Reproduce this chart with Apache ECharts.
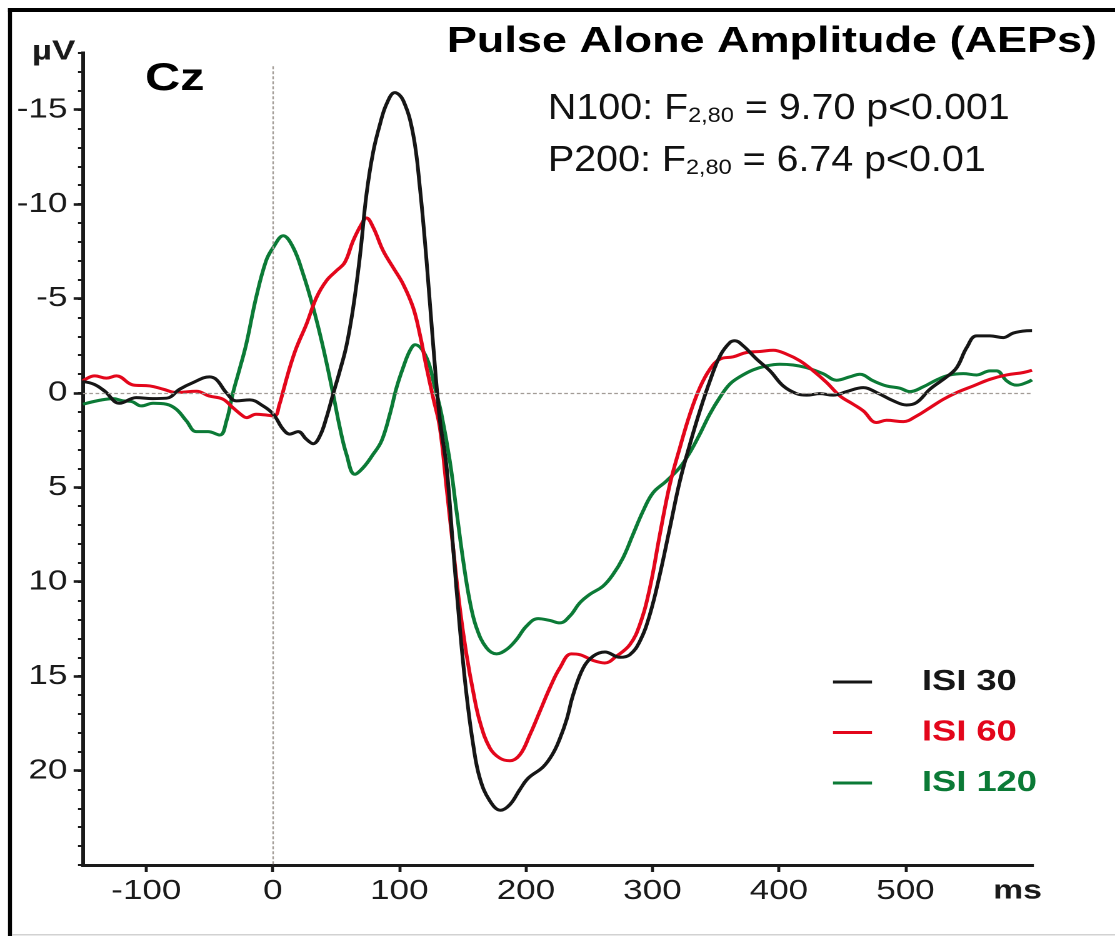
<!DOCTYPE html>
<html>
<head>
<meta charset="utf-8">
<script src="https://cdn.jsdelivr.net/npm/echarts@6/dist/echarts.min.js"></script>
<style>
html, body { margin: 0; padding: 0; background: #fff; overflow: hidden; }
/* the reference figure is horizontally stretched by 1.25 */
#chart { width: 892px; height: 936px; transform: scaleX(1.25); transform-origin: 0 0; }
</style>
</head>
<body>
<div id="chart"></div>
<script>
// ---------------- data ----------------
const seriesNames = ['ISI 30', 'ISI 60', 'ISI 120'];
const seriesColors = ['#161616', '#e3061b', '#0b7a36'];

// [time (ms), amplitude (µV)]  — negative is plotted upward
const isi30 = [
  [-150,-0.6],[-141,-0.45],[-133,-0.1],[-121,0.55],[-108,0.25],[-95,0.3],[-84,0.28],[-73.5,-0.2],
  [-63,-0.55],[-50,-0.85],[-44.5,-0.7],[-36.6,0],[-28.7,0.42],[-18.2,0.37],[-7.7,0.69],[0.3,1.12],
  [8.2,1.93],[13.4,2.18],[20,2.05],[26.6,2.46],[31.9,2.69],[37.2,2.28],[42.4,1.31],[47.7,0.05],
  [53,-1.17],[58.2,-2.5],[63.5,-4.5],[68.8,-7.2],[74,-10.5],[79.3,-12.75],[84.6,-14.2],[89.9,-15.3],
  [96.4,-15.9],[103,-15.5],[110.9,-13.7],[116.2,-10.9],[121.5,-7.0],[126.7,-2.58],[132,1.4],[137.3,3.9],
  [142.5,8.2],[147.8,12.44],[153.1,15.98],[158.3,18.6],[163.6,20.4],[171.5,21.6],[180,22.1],[187.4,21.8],
  [195.3,21.0],[201.9,20.4],[213.7,19.8],[221.6,19.07],[226.9,18.3],[232.2,17.3],[237.4,15.98],[245.3,14.57],
  [253.2,13.94],[262.5,13.72],[274.3,14.0],[282.2,13.86],[290.1,13.15],[298,11.73],[305.9,9.61],[313.8,7.14],
  [321.7,4.67],[329.6,2.72],[337.5,0.95],[345.5,-0.64],[353.4,-1.96],[361.3,-2.67],[365.2,-2.76],[371.8,-2.49],
  [382.4,-1.79],[392.9,-1.17],[403.4,-0.37],[414,0.04],[421.9,0.12],[432.4,0.04],[442.9,0.12],[453.5,-0.07],
  [466.6,-0.28],[477.2,-0.02],[490.4,0.42],[500.9,0.64],[508.8,0.51],[519.4,-0.2],[532.6,-0.85],[540.5,-1.34],
  [548.4,-2.4],[556.3,-3.02],[566.8,-3.02],[577.3,-2.93],[585.2,-3.17],[595.8,-3.29],[600,-3.3]
];
const isi60 = [
  [-150,-0.64],[-140.7,-0.9],[-131.5,-0.78],[-123.6,-0.9],[-110.4,-0.42],[-97.2,-0.37],[-86.7,-0.2],[-76.2,-0.02],
  [-60.4,-0.09],[-50.4,0.16],[-39.5,0.33],[-31.6,0.78],[-23.7,1.22],[-21,1.31],[-13.2,1.13],[-5.3,1.17],
  [1.3,1.22],[5.3,0.6],[8.2,-0.1],[13.4,-1.34],[18.7,-2.4],[26.6,-3.64],[34.5,-5.05],[42.4,-5.94],
  [50.3,-6.47],[56.9,-6.91],[63.5,-8.06],[70.1,-8.94],[74,-9.26],[79.3,-8.77],[87.2,-7.53],[95.1,-6.64],
  [103,-5.76],[110.9,-4.52],[116.2,-3.11],[121.5,-1.34],[126.7,0.25],[132,1.84],[137.3,5.02],[142.5,8.2],
  [147.8,11.38],[153.1,13.86],[158.3,15.8],[163.6,17.4],[171.5,18.8],[179.4,19.34],[187.4,19.48],[195.3,19.16],
  [203.2,18.1],[211.1,16.86],[218.9,15.63],[226.8,14.57],[236,13.82],[242.6,13.86],[253.2,14.17],[262.4,14.3],
  [271.6,13.94],[282.2,13.33],[290.1,12.26],[298,10.32],[305.9,7.49],[313.8,4.84],[321.7,2.9],[329.6,1.13],
  [337.5,-0.28],[345.5,-1.26],[353.4,-1.79],[363.9,-1.91],[374.4,-2.14],[385,-2.19],[395.5,-2.26],[406.1,-2.05],
  [416.6,-1.7],[427.1,-1.17],[437.7,-0.55],[448.2,0.16],[458.7,0.6],[466.6,0.95],[477.2,1.57],[485.1,1.45],
  [498.3,1.52],[508.8,1.22],[519.4,0.78],[529.9,0.34],[540.5,-0.02],[553.6,-0.37],[566.8,-0.72],[580,-0.95],
  [593.2,-1.08],[600,-1.2]
];
const isi120 = [
  [-150,0.6],[-136.8,0.39],[-126.3,0.3],[-118.4,0.42],[-111.8,0.45],[-103.9,0.69],[-94.6,0.55],[-84,0.6],
  [-76.2,0.87],[-68.3,1.48],[-60.4,2.05],[-51.2,2.05],[-41.9,2.23],[-36.6,1.48],[-31.4,-0.02],[-26.1,-1.3],
  [-21,-2.58],[-13.2,-5.05],[-5.3,-7.0],[0.3,-7.7],[8.2,-8.32],[16.1,-7.7],[24,-6.29],[31.9,-4.52],
  [39.8,-2.4],[47.7,0.07],[53,1.84],[58.2,3.25],[64.8,4.31],[71.4,3.96],[79.3,3.25],[85.9,2.55],
  [92.5,1.13],[97.8,-0.28],[103,-1.34],[108.3,-2.23],[112.5,-2.55],[121.5,-1.87],[128.1,-0.28],[133.3,1.13],
  [139.9,3.6],[145.2,6.26],[150.5,8.9],[155.7,11.03],[161,12.44],[168.9,13.5],[176.8,13.82],[184.7,13.59],
  [192.6,13.06],[200.5,12.35],[209.7,11.95],[219,12.05],[226.9,12.18],[234.7,11.82],[242.6,11.12],[250.5,10.67],
  [261,10.23],[268.9,9.61],[276.8,8.73],[284.7,7.49],[292.6,6.26],[300.5,5.29],[311,4.67],[321.5,3.96],
  [329.5,3.17],[337.4,2.19],[345.3,1.13],[353.2,0.25],[361.1,-0.46],[369,-0.85],[379.6,-1.22],[390.1,-1.43],
  [400.6,-1.52],[411.2,-1.48],[421.7,-1.34],[434.9,-1.02],[445.5,-0.67],[456,-0.85],[463.9,-0.99],[474.5,-0.64],
  [485,-0.37],[495.6,-0.25],[503.5,-0.07],[514,-0.32],[524.6,-0.69],[535.1,-0.95],[545.7,-1.02],[556.2,-0.95],
  [566.8,-1.17],[572,-1.17],[580,-0.64],[587.9,-0.41],[595.8,-0.55],[600,-0.69]
];

const xRange = [-150, 600];
const yRange = [-18, 25];
const xTickValues = [-100, 0, 100, 200, 300, 400, 500];
const yTickValues = [-15, -10, -5, 0, 5, 10, 15, 20];
const stimulusLineTop = -17.3;

const titleText = 'Pulse Alone Amplitude (AEPs)';
const electrodeText = 'Cz';
const yUnitText = 'µV';
const xUnitText = 'ms';
const statLines = [
  ['N100: F', '2,80', ' = 9.70 p<0.001'],
  ['P200: F', '2,80', ' = 6.74 p<0.01']
];

// ---------------- chart ----------------
const FONT = "'Liberation Sans', Arial, Helvetica, sans-serif";
const ink = '#1a1a1a';
const chart = echarts.init(document.getElementById('chart'), null, { renderer: 'canvas', devicePixelRatio: 2 });

const refLineStyle = { color: '#a29c96', width: 1.2, type: [3, 2] };

const lineSeries = [2, 1, 0].map(i => ({
  type: 'line',
  name: seriesNames[i],
  data: [isi30, isi60, isi120][i],
  xAxisIndex: 0,
  yAxisIndex: 0,
  showSymbol: false,
  symbol: 'none',
  smooth: 0.4,
  z: 3,
  color: seriesColors[i],
  lineStyle: { color: seriesColors[i], width: 3 }
}));

const statGraphics = statLines.map((parts, k) => ({
  type: 'text',
  x: 438.4,
  y: [109, 161][k],
  scaleX: 0.875,
  style: {
    text: '{m|' + parts[0] + '}{s|' + parts[1] + '}{m|' + parts[2] + '}',
    align: 'left',
    verticalAlign: 'middle',
    rich: {
      m: { fontSize: 36, fontFamily: FONT, fill: '#111', verticalAlign: 'bottom' },
      s: { fontSize: 21.5, fontFamily: FONT, fill: '#111', verticalAlign: 'bottom' }
    }
  },
  z: 10
}));

const option = {
  animation: false,
  backgroundColor: '#ffffff',
  grid: { left: 66.4, right: 66.4, top: 53, bottom: 71, containLabel: false },
  xAxis: {
    type: 'value',
    min: xRange[0],
    max: xRange[1],
    axisLine: { show: true, onZero: false, lineStyle: { color: ink, width: 3, cap: 'square' } },
    axisTick: { show: true, customValues: xTickValues, length: 7, lineStyle: { color: ink, width: 2.4 } },
    axisLabel: { show: true, customValues: xTickValues, fontSize: 28, fontFamily: FONT, color: ink, margin: 12.5 },
    splitLine: { show: false }
  },
  yAxis: [
    {
      type: 'value',
      min: yRange[0],
      max: yRange[1],
      interval: 1,
      inverse: true,
      position: 'left',
      axisLine: { show: true, onZero: false, lineStyle: { color: ink, width: 3, cap: 'square' } },
      axisTick: { show: true, length: 4, lineStyle: { color: ink, width: 2 } },
      axisLabel: { show: false },
      splitLine: { show: false }
    },
    {
      type: 'value',
      min: yRange[0],
      max: yRange[1],
      inverse: true,
      position: 'left',
      offset: 0,
      axisLine: { show: false, onZero: false },
      axisTick: { show: true, customValues: yTickValues, length: 7.5, lineStyle: { color: ink, width: 2.6 } },
      axisLabel: { show: true, customValues: yTickValues, fontSize: 28, fontFamily: FONT, color: ink, margin: 12.5 },
      splitLine: { show: false }
    }
  ],
  legend: {
    orient: 'vertical',
    left: 666.4,
    top: 667,
    padding: 0,
    icon: 'rect',
    itemWidth: 31.2,
    itemHeight: 3,
    itemGap: 20.5,
    selectedMode: false,
    textStyle: { fontSize: 29, fontWeight: 'bold', fontFamily: FONT, lineHeight: 30, padding: [0, 0, 0, 35] },
    data: seriesNames.map((n, i) => ({ name: n, textStyle: { color: seriesColors[i] } }))
  },
  graphic: [
    { type: 'rect', shape: { x: 6.4, y: 8, width: 885.6, height: 4 }, style: { fill: '#000' }, z: 10 },
    { type: 'rect', shape: { x: 6.4, y: 8, width: 3.2, height: 928 }, style: { fill: '#000' }, z: 10 },
    { type: 'rect', shape: { x: 9.6, y: 934, width: 882.4, height: 1.5 }, style: { fill: '#d2d2d2' }, z: 10 },
    { type: 'text', x: 877.6, y: 42, style: { text: titleText, align: 'right', verticalAlign: 'middle', fontSize: 36, fontWeight: 'bold', fontFamily: FONT, fill: '#000' }, z: 10 },
    { type: 'text', x: 116, y: 79, style: { text: electrodeText, align: 'left', verticalAlign: 'middle', fontSize: 39, fontWeight: 'bold', fontFamily: FONT, fill: '#000' }, z: 10 },
    { type: 'text', x: 25.5, y: 52, style: { text: yUnitText, align: 'left', verticalAlign: 'middle', fontSize: 28, fontWeight: 'bold', fontFamily: FONT, fill: ink }, z: 10 },
    { type: 'text', x: 794.5, y: 891, style: { text: xUnitText, align: 'left', verticalAlign: 'middle', fontSize: 27, fontWeight: 'bold', fontFamily: FONT, fill: ink }, z: 10 }
  ].concat(statGraphics),
  series: [
    {
      type: 'line',
      name: 'reference',
      data: [],
      xAxisIndex: 0,
      yAxisIndex: 0,
      z: 1,
      markLine: {
        silent: true,
        symbol: ['none', 'none'],
        label: { show: false },
        lineStyle: refLineStyle,
        emphasis: { disabled: true },
        data: [
          [{ coord: [0, stimulusLineTop] }, { coord: [0, yRange[1]] }],
          [{ coord: [xRange[0], 0] }, { coord: [xRange[1], 0] }]
        ]
      }
    }
  ].concat(lineSeries)
};

chart.setOption(option);
</script>
</body>
</html>
